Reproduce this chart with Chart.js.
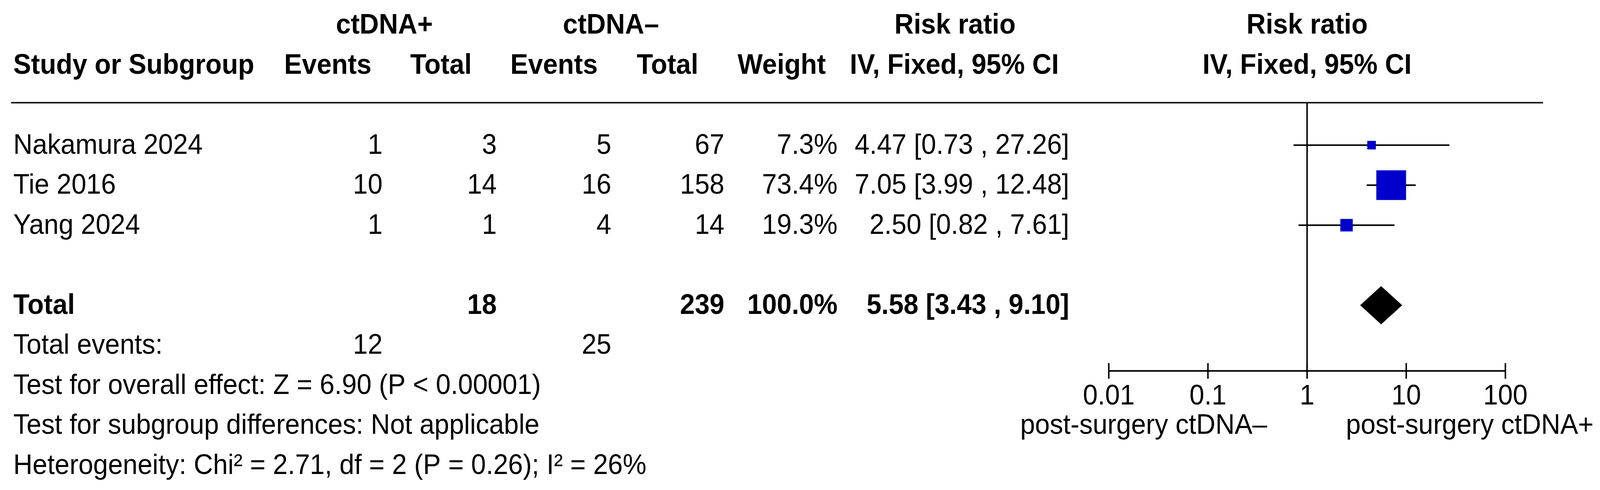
<!DOCTYPE html>
<html lang="en">
<head>
    <meta charset="UTF-8">
    <meta name="viewport" content="width=device-width, initial-scale=1.0">
    <title>Forest plot: ctDNA+ vs ctDNA- risk ratio</title>
    <script src="https://cdn.jsdelivr.net/npm/chart.js"></script>
    <style>
        html, body {
            margin: 0;
            padding: 0;
            background: #fff;
            overflow: hidden;
        }
        .wrap {
            position: relative;
            width: 100vw;
            height: 100vh;
        }
    </style>
</head>
<body>
    <div class="wrap">
        <canvas id="forest"></canvas>
    </div>

    <script>
        // Study data
        const studies = ['Nakamura 2024', 'Tie 2016', 'Yang 2024'];
        const posEvents = [1, 10, 1];
        const posTotal = [3, 14, 1];
        const negEvents = [5, 16, 4];
        const negTotal = [67, 158, 14];
        const weights = [7.3, 73.4, 19.3];
        const riskRatio = [4.47, 7.05, 2.50];
        const ciLow = [0.73, 3.99, 0.82];
        const ciHigh = [27.26, 12.48, 7.61];

        // Pooled result
        const pooledTotals = [18, 239];
        const pooledEvents = [12, 25];
        const pooledWeight = 100.0;
        const pooledRR = [5.58, 3.43, 9.10]; // estimate, low, high

        // Axis
        const axisTicks = [0.01, 0.1, 1, 10, 100];
        const axisTickLabels = ['0.01', '0.1', '1', '10', '100'];
        const favourLabels = ['post-surgery ctDNA\u2013', 'post-surgery ctDNA+'];

        const notes = [
            'Test for overall effect: Z = 6.90 (P < 0.00001)',
            'Test for subgroup differences: Not applicable',
            'Heterogeneity: Chi\u00b2 = 2.71, df = 2 (P = 0.26); I\u00b2 = 26%'
        ];

        // row indexes on the y scale
        const studyRows = studies.map((s, i) => i);
        const totalRow = 4;

        // layout is designed on a 4329 x 1255 sheet and scaled to the window
        const W = 4329, H = 1255;
        const FONT = "'Liberation Sans', Arial, Helvetica, sans-serif";
        const BLUE = '#0000cc';

        // table column anchors (x on the design sheet)
        const col = {
            name: 36, ev1: 1035, tot1: 1344, ev2: 1654, tot2: 1960, weight: 2266, ci: 2893
        };
        const head = {
            ev1: 887, tot1: 1193, ev2: 1499, tot2: 1806, weight: 2115, ci: 2582,
            grp1: 1040, grp2: 1653, grp3: 2584
        };

        const kx = chart => chart.width / W;
        const ky = chart => chart.height / H;

        function boxSide(w) {
            return 16 + 0.82 * w;
        }

        function fmtCI(rr, lo, hi) {
            return rr.toFixed(2) + ' [' + lo.toFixed(2) + ' , ' + hi.toFixed(2) + ']';
        }

        // text table, axis, null line and diamond
        const forestPlugin = {
            id: 'forestTable',
            beforeDatasetsDraw(chart) {
                const { ctx, chartArea, scales } = chart;
                const x = scales.x;
                ctx.save();
                ctx.strokeStyle = '#000';
                ctx.lineWidth = 4 * kx(chart);
                // line of no effect
                ctx.beginPath();
                ctx.moveTo(x.getPixelForValue(1), chartArea.top);
                ctx.lineTo(x.getPixelForValue(1), chartArea.bottom);
                ctx.stroke();
                ctx.restore();
            },
            afterDraw(chart) {
                const { ctx, chartArea, scales } = chart;
                const x = scales.x, y = scales.y;
                const sx = kx(chart), sy = ky(chart);
                const fs = 72 * sy;
                const squeeze = sx / sy; // window is narrower than the sheet
                const base = row => y.getPixelForValue(row) + 22 * sy;

                function put(str, px, py, align, bold) {
                    ctx.save();
                    ctx.font = (bold ? 'bold ' : '') + fs + 'px ' + FONT;
                    ctx.textAlign = align;
                    ctx.translate(px, py);
                    ctx.scale(squeeze, 1);
                    ctx.fillText(str, 0, 0);
                    ctx.restore();
                }
                const text = (str, px, row, align, bold) => put(str, px, base(row), align, bold);

                ctx.save();
                ctx.fillStyle = '#000';
                ctx.textBaseline = 'alphabetic';

                // headers
                text('ctDNA+', head.grp1 * sx, -3, 'center', true);
                text('ctDNA\u2013', head.grp2 * sx, -3, 'center', true);
                text('Risk ratio', head.grp3 * sx, -3, 'center', true);
                text('Risk ratio', x.getPixelForValue(1), -3, 'center', true);
                text('Study or Subgroup', col.name * sx, -2, 'left', true);
                text('Events', head.ev1 * sx, -2, 'center', true);
                text('Total', head.tot1 * sx, -2, 'center', true);
                text('Events', head.ev2 * sx, -2, 'center', true);
                text('Total', head.tot2 * sx, -2, 'center', true);
                text('Weight', head.weight * sx, -2, 'center', true);
                text('IV, Fixed, 95% CI', head.ci * sx, -2, 'center', true);
                text('IV, Fixed, 95% CI', x.getPixelForValue(1), -2, 'center', true);

                // header rule
                ctx.strokeStyle = '#1a1a1a';
                ctx.lineWidth = 4 * sy;
                ctx.beginPath();
                ctx.moveTo(30 * sx, chartArea.top);
                ctx.lineTo(4175 * sx, chartArea.top);
                ctx.stroke();

                // study rows
                studies.forEach((s, i) => {
                    const r = studyRows[i];
                    text(s, col.name * sx, r, 'left');
                    text(String(posEvents[i]), col.ev1 * sx, r, 'right');
                    text(String(posTotal[i]), col.tot1 * sx, r, 'right');
                    text(String(negEvents[i]), col.ev2 * sx, r, 'right');
                    text(String(negTotal[i]), col.tot2 * sx, r, 'right');
                    text(weights[i].toFixed(1) + '%', col.weight * sx, r, 'right');
                    text(fmtCI(riskRatio[i], ciLow[i], ciHigh[i]), col.ci * sx, r, 'right');
                });

                // total row
                text('Total', col.name * sx, totalRow, 'left', true);
                text(String(pooledTotals[0]), col.tot1 * sx, totalRow, 'right', true);
                text(String(pooledTotals[1]), col.tot2 * sx, totalRow, 'right', true);
                text(pooledWeight.toFixed(1) + '%', col.weight * sx, totalRow, 'right', true);
                text(fmtCI(pooledRR[0], pooledRR[1], pooledRR[2]), col.ci * sx, totalRow, 'right', true);

                text('Total events:', col.name * sx, totalRow + 1, 'left');
                text(String(pooledEvents[0]), col.ev1 * sx, totalRow + 1, 'right');
                text(String(pooledEvents[1]), col.ev2 * sx, totalRow + 1, 'right');
                notes.forEach((n, i) => text(n, col.name * sx, totalRow + 2 + i, 'left'));

                // pooled diamond
                const dy = y.getPixelForValue(totalRow);
                const half = 49 * sy;
                ctx.fillStyle = '#000';
                ctx.beginPath();
                ctx.moveTo(x.getPixelForValue(pooledRR[1]), dy);
                ctx.lineTo(x.getPixelForValue(pooledRR[0]), dy - half);
                ctx.lineTo(x.getPixelForValue(pooledRR[2]), dy);
                ctx.lineTo(x.getPixelForValue(pooledRR[0]), dy + half);
                ctx.closePath();
                ctx.fill();

                // x axis
                const ay = chartArea.bottom;
                ctx.strokeStyle = '#000';
                ctx.lineWidth = 4 * sy;
                ctx.beginPath();
                ctx.moveTo(x.getPixelForValue(axisTicks[0]), ay);
                ctx.lineTo(x.getPixelForValue(axisTicks[axisTicks.length - 1]), ay);
                ctx.stroke();
                ctx.lineWidth = 4 * sx;
                ctx.beginPath();
                axisTicks.forEach(t => {
                    const tx = x.getPixelForValue(t);
                    ctx.moveTo(tx, ay - 20 * sy);
                    ctx.lineTo(tx, ay + 20 * sy);
                });
                ctx.stroke();

                axisTicks.forEach((t, i) => {
                    put(axisTickLabels[i], x.getPixelForValue(t), ay + 86 * sy, 'center');
                });

                const nullX = x.getPixelForValue(1);
                put(favourLabels[0], nullX - 108 * sx, base(totalRow + 3), 'right');
                put(favourLabels[1], nullX + 105 * sx, base(totalRow + 3), 'left');

                ctx.restore();
            }
        };

        const ciDatasets = studies.map((s, i) => ({
            label: s + ' CI',
            data: [{ x: ciLow[i], y: studyRows[i] }, { x: ciHigh[i], y: studyRows[i] }],
            showLine: true,
            borderColor: '#000',
            borderWidth: c => 4 * ky(c.chart),
            pointRadius: 0,
            order: 2
        }));

        const ctx = document.getElementById('forest').getContext('2d');
        const forestChart = new Chart(ctx, {
            type: 'scatter',
            data: {
                datasets: [{
                    label: 'Risk ratio',
                    data: studies.map((s, i) => ({ x: riskRatio[i], y: studyRows[i] })),
                    pointStyle: 'rect',
                    pointRadius: c => boxSide(weights[c.dataIndex]) * ky(c.chart) / Math.SQRT2,
                    pointBackgroundColor: BLUE,
                    pointBorderWidth: 0,
                    pointBorderColor: BLUE,
                    order: 1
                }, ...ciDatasets]
            },
            options: {
                responsive: true,
                maintainAspectRatio: false,
                animation: false,
                layout: {
                    padding: c => ({
                        left: 3000 * kx(c.chart),
                        right: 256 * kx(c.chart),
                        top: 263 * ky(c.chart),
                        bottom: 305 * ky(c.chart)
                    })
                },
                scales: {
                    x: {
                        type: 'logarithmic',
                        min: 0.01,
                        max: 100,
                        display: false
                    },
                    y: {
                        type: 'linear',
                        min: -1.06,
                        max: 5.64,
                        reverse: true,
                        display: false
                    }
                },
                plugins: {
                    legend: { display: false },
                    tooltip: { enabled: false }
                }
            },
            plugins: [forestPlugin]
        });
    </script>
</body>
</html>
